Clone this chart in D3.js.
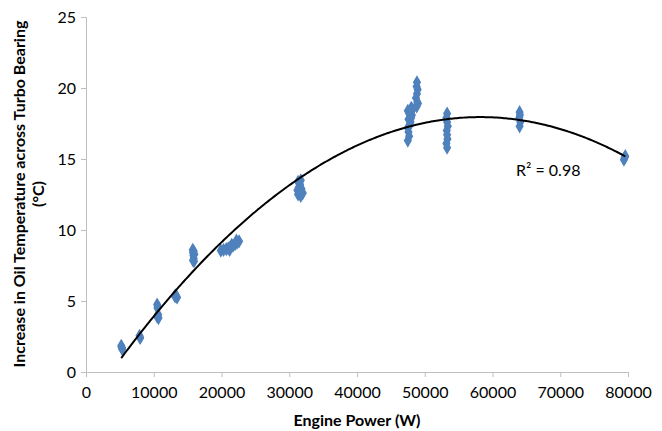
<!DOCTYPE html>
<html>
<head>
<meta charset="utf-8">
<script src="https://cdnjs.cloudflare.com/ajax/libs/d3/7.8.5/d3.min.js"></script>
<style>
  body { margin: 0; background: #fff; }
  text { font-family: Lato, "Open Sans", sans-serif; fill: #000; }
</style>
</head>
<body>
<svg id="chart" width="662" height="431"></svg>
<script>
// engine power (W) of each recorded point
var powerW = [
  5200, 5300, 5350, 5250,
  7900, 8000, 7950,
  10500, 10600, 10550, 10600, 10700, 10650, 10500,
  13100, 13300, 13450, 13250,
  15750, 15900, 15800, 15850, 15900, 15800, 15950, 16000,
  19900, 20300, 20700, 21000, 21300, 21700, 22000, 22300, 22600, 22200, 21500, 21200,
  31300, 31700, 31600, 31400, 31800, 31500, 31300, 31700, 32000, 31200,
  47500, 47700, 47600, 47500, 47800, 47900, 47600, 48000, 48100, 47700, 47500, 48200, 48000,
  48800, 48900, 48700, 48850, 48950, 48800, 48850, 49000,
  53300, 53200, 53350, 53300, 53250, 53400, 53300, 53200, 53300,
  64000, 64100, 63950, 64050, 64000,
  79400, 79500, 79600
];
// increase in oil temperature (°C) for the same points
var tempRise = [
  1.85, 1.7, 1.6, 1.75,
  2.55, 2.4, 2.45,
  4.75, 4.6, 4.5, 3.95, 3.8, 4.05, 3.9,
  5.35, 5.3, 5.25, 5.4,
  8.6, 8.5, 8.4, 8.2, 8.0, 7.85, 7.8, 8.3,
  8.55, 8.6, 8.65, 8.7, 8.8, 8.9, 9.0, 9.1, 9.2, 9.25, 8.95, 8.6,
  13.4, 13.5, 13.2, 13.0, 12.9, 12.7, 12.5, 12.4, 12.6, 12.8,
  16.3, 16.6, 16.9, 17.2, 17.4, 17.6, 17.8, 17.9, 18.1, 18.2, 18.4, 18.5, 18.6,
  18.7, 19.0, 19.3, 19.6, 19.9, 20.1, 20.4, 18.9,
  15.8, 16.1, 16.4, 16.7, 17.0, 17.3, 17.6, 17.9, 18.2,
  17.3, 17.6, 17.9, 18.1, 18.3,
  14.95, 15.1, 15.2
];
// polynomial trendline y = c0 + c1*x + c2*x^2
var trendCoef = [-2.51, 7.031e-4, -6.04e-9];
var rSquaredLabel = "R\u00b2 = 0.98";

var xTicks = [0, 10000, 20000, 30000, 40000, 50000, 60000, 70000, 80000];
var yTicks = [0, 5, 10, 15, 20, 25];

(function() {
  var svg = d3.select('#chart');
  var plotLeft = 86, plotRight = 628, plotTop = 17, plotBottom = 372;

  var x = d3.scaleLinear().domain([0, 80000]).range([plotLeft, plotRight]);
  var y = d3.scaleLinear().domain([0, 25]).range([plotBottom, plotTop]);

  var axisColor = "#bfbfbf";

  var xAxis = svg.append("g")
    .attr("transform", "translate(0," + plotBottom + ")")
    .call(d3.axisBottom(x).tickValues(xTicks).tickSize(5).tickFormat(d3.format("d")));
  var yAxis = svg.append("g")
    .attr("transform", "translate(" + plotLeft + ",0)")
    .call(d3.axisLeft(y).tickValues(yTicks).tickSize(5));

  [xAxis, yAxis].forEach(function(g) {
    g.select(".domain").attr("stroke", axisColor).attr("stroke-width", 1);
    g.selectAll(".tick line").attr("stroke", axisColor);
    g.selectAll(".tick text").style("font-size", "16px").attr("fill", "#000");
  });
  xAxis.selectAll(".tick text").attr("dy", "1.15em");
  yAxis.selectAll(".tick text").attr("x", -10);

  // points
  var pts = powerW.map(function(p, i) { return {x: p, y: tempRise[i]}; });
  var diamond = d3.symbol().type(d3.symbolDiamond).size(58);
  svg.append("g").selectAll("path")
    .data(pts).enter().append("path")
    .attr("d", diamond)
    .attr("transform", function(d) { return "translate(" + x(d.x) + "," + y(d.y) + ")"; })
    .attr("fill", "#4f81bd");

  // trendline over the data range
  var xMin = d3.min(powerW), xMax = d3.max(powerW);
  var trendX = d3.range(xMin, xMax, 250).concat([xMax]);
  var lineFunction = d3.line()
    .x(function(d) { return x(d); })
    .y(function(d) { return y(trendCoef[0] + trendCoef[1] * d + trendCoef[2] * d * d); })
    .curve(d3.curveLinear);
  svg.append("path")
    .attr("d", lineFunction(trendX))
    .attr("fill", "none")
    .attr("stroke", "#000")
    .attr("stroke-width", 2);

  svg.append("text")
    .attr("x", 516).attr("y", 176)
    .style("font-size", "16px")
    .text(rSquaredLabel);

  // axis titles
  svg.append("text")
    .attr("x", 357).attr("y", 426)
    .attr("text-anchor", "middle")
    .style("font-size", "16px").style("font-weight", "bold")
    .text("Engine Power (W)");

  var yTitle = svg.append("text")
    .attr("transform", "translate(25,194) rotate(-90)")
    .attr("text-anchor", "middle")
    .style("font-size", "16px").style("font-weight", "bold");
  yTitle.append("tspan").attr("x", 0).attr("dy", 0).text("Increase in Oil Temperature across Turbo Bearing");
  yTitle.append("tspan").attr("x", 0).attr("dy", 19).text("(\u00b0C)");
})();
</script>
</body>
</html>
